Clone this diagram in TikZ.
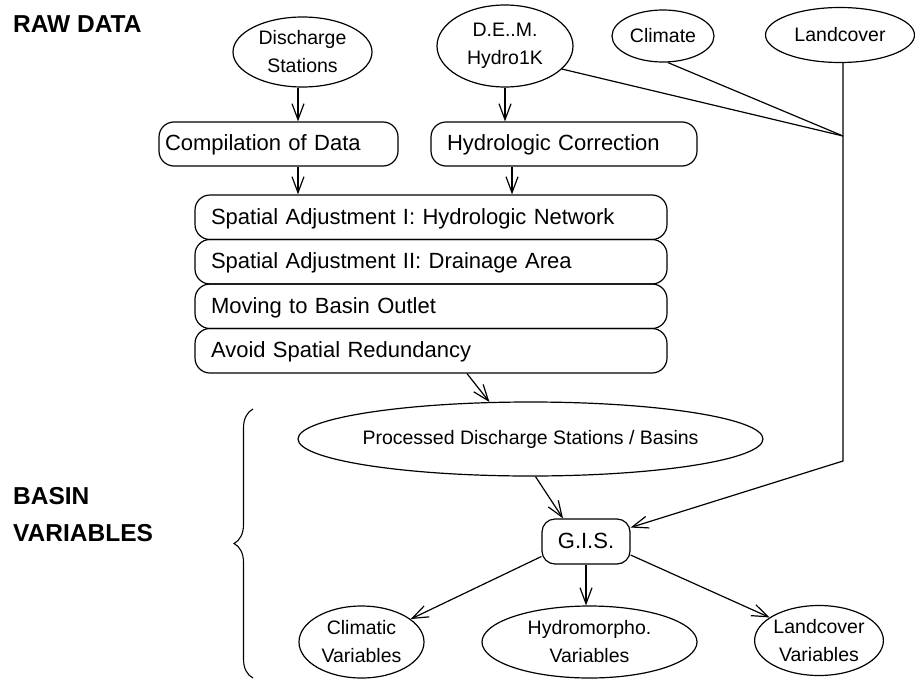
\documentclass[tikz,border=0pt]{standalone}
\usepackage{fontspec}
\setmainfont{Liberation Sans}
\usetikzlibrary{shapes.geometric,arrows.meta,decorations.pathreplacing}
\begin{document}
\begin{tikzpicture}[x=1pt,y=-1pt,
  every node/.style={inner sep=0pt},
  lbl/.style={font=\fontsize{24.5}{37}\selectfont\bfseries, align=left},
  oval/.style={draw, ellipse, line width=1.2pt, font=\fontsize{19.5}{28}\selectfont, align=center},
  rbox/.style={draw, rounded corners=15pt, line width=1.2pt, font=\fontsize{22}{26}\selectfont, align=left, text height=18pt, text depth=4.5pt},
  conn/.style={line width=1.2pt},
  arr/.style={conn, -{Straight Barb[length=16pt,width=12pt]}},
]
\useasboundingbox (0,0) rectangle (915,680);

% side labels
\node[lbl, anchor=west] (raw) at (13,24) {RAW DATA};
\node[lbl, anchor=west] (basin) at (13,514.5) {BASIN\\VARIABLES};

% raw data
\node[oval, minimum width=139pt, minimum height=70pt] (ds) at (302.5,52) {Discharge\\Stations};
\node[oval, minimum width=136pt, minimum height=82pt] (dem) at (505,46) {D.E..M.\\Hydro1K};
\node[oval, minimum width=102pt, minimum height=52pt] (clim) at (663,36) {Climate};
\node[oval, minimum width=149pt, minimum height=55pt] (land) at (840,35) {Landcover};

% processing
\node[rbox, minimum height=44pt, text width=227pt, inner xsep=6pt] (comp) at (278.5,144) {Compilation of Data};
\node[rbox, minimum height=44pt, text width=234pt, inner xsep=16pt] (hyd) at (564,144) {Hydrologic Correction};

\node[rbox, minimum height=44.5pt, text width=440pt, inner xsep=16pt] (s1) at (431,217.25) {Spatial Adjustment I: Hydrologic Network};
\node[rbox, minimum height=44.5pt, text width=440pt, inner xsep=16pt] (s2) at (431,261.75) {Spatial Adjustment II: Drainage Area};
\node[rbox, minimum height=44.5pt, text width=440pt, inner xsep=16pt] (s3) at (431,306.25) {Moving to Basin Outlet};
\node[rbox, minimum height=44.5pt, text width=440pt, inner xsep=16pt] (s4) at (431,350.75) {Avoid Spatial Redundancy};

% basin variables
\node[oval, minimum width=465pt, minimum height=74pt, inner xsep=-4pt] (proc) at (530.5,439) {Processed Discharge Stations / Basins};
\node[rbox, align=center, minimum width=88pt, minimum height=45pt, rounded corners=13pt] (gis) at (586,541.5) {G.I.S.};
\node[oval, minimum width=125pt, minimum height=72pt] (cv) at (361.5,642) {Climatic\\Variables};
\node[oval, minimum width=215pt, minimum height=72pt] (hv) at (589.5,642) {Hydromorpho.\\Variables};
\node[oval, minimum width=128pt, minimum height=70pt] (lv) at (819,640.5) {Landcover\\Variables};

% junctions
\coordinate (J) at (843,136);
\coordinate (K) at (843,461);
\coordinate (bb) at (253,678);
\coordinate (bt) at (253,409);

% connectors
\draw[arr] ([xshift=-4.5pt]ds.south) -- ([xshift=-4.5pt]ds.south |- comp.north);
\draw[arr] (dem.south) -- (dem.south |- hyd.north);
\draw[arr] ([xshift=19.5pt]comp.south) -- ([xshift=19.5pt]comp.south |- s1.north);
\draw[arr] ([xshift=-52pt]hyd.south) -- ([xshift=-52pt]hyd.south |- s1.north);

\draw[conn] (dem.-22) -- (J);
\draw[conn] (clim.-80) -- (J);
\draw[arr] ([xshift=3pt]land.south) -- (K) -- ([yshift=14pt]gis.east);

\draw[arr] ([xshift=36pt]s4.south) -- (proc.138);
\draw[arr] ([xshift=5pt]proc.south) -- ([xshift=-23pt]gis.north);

\draw[arr] ([yshift=-15pt]gis.west) -- (cv.25);
\draw[arr] (gis.south) -- (gis.south |- hv.north);
\draw[arr] ([yshift=-13.5pt]gis.east) -- (lv.155);

% brace
\draw[conn, line width=1.1pt, decorate, decoration={brace, amplitude=19pt}] (bb) -- (bt);
\end{tikzpicture}
\end{document}
